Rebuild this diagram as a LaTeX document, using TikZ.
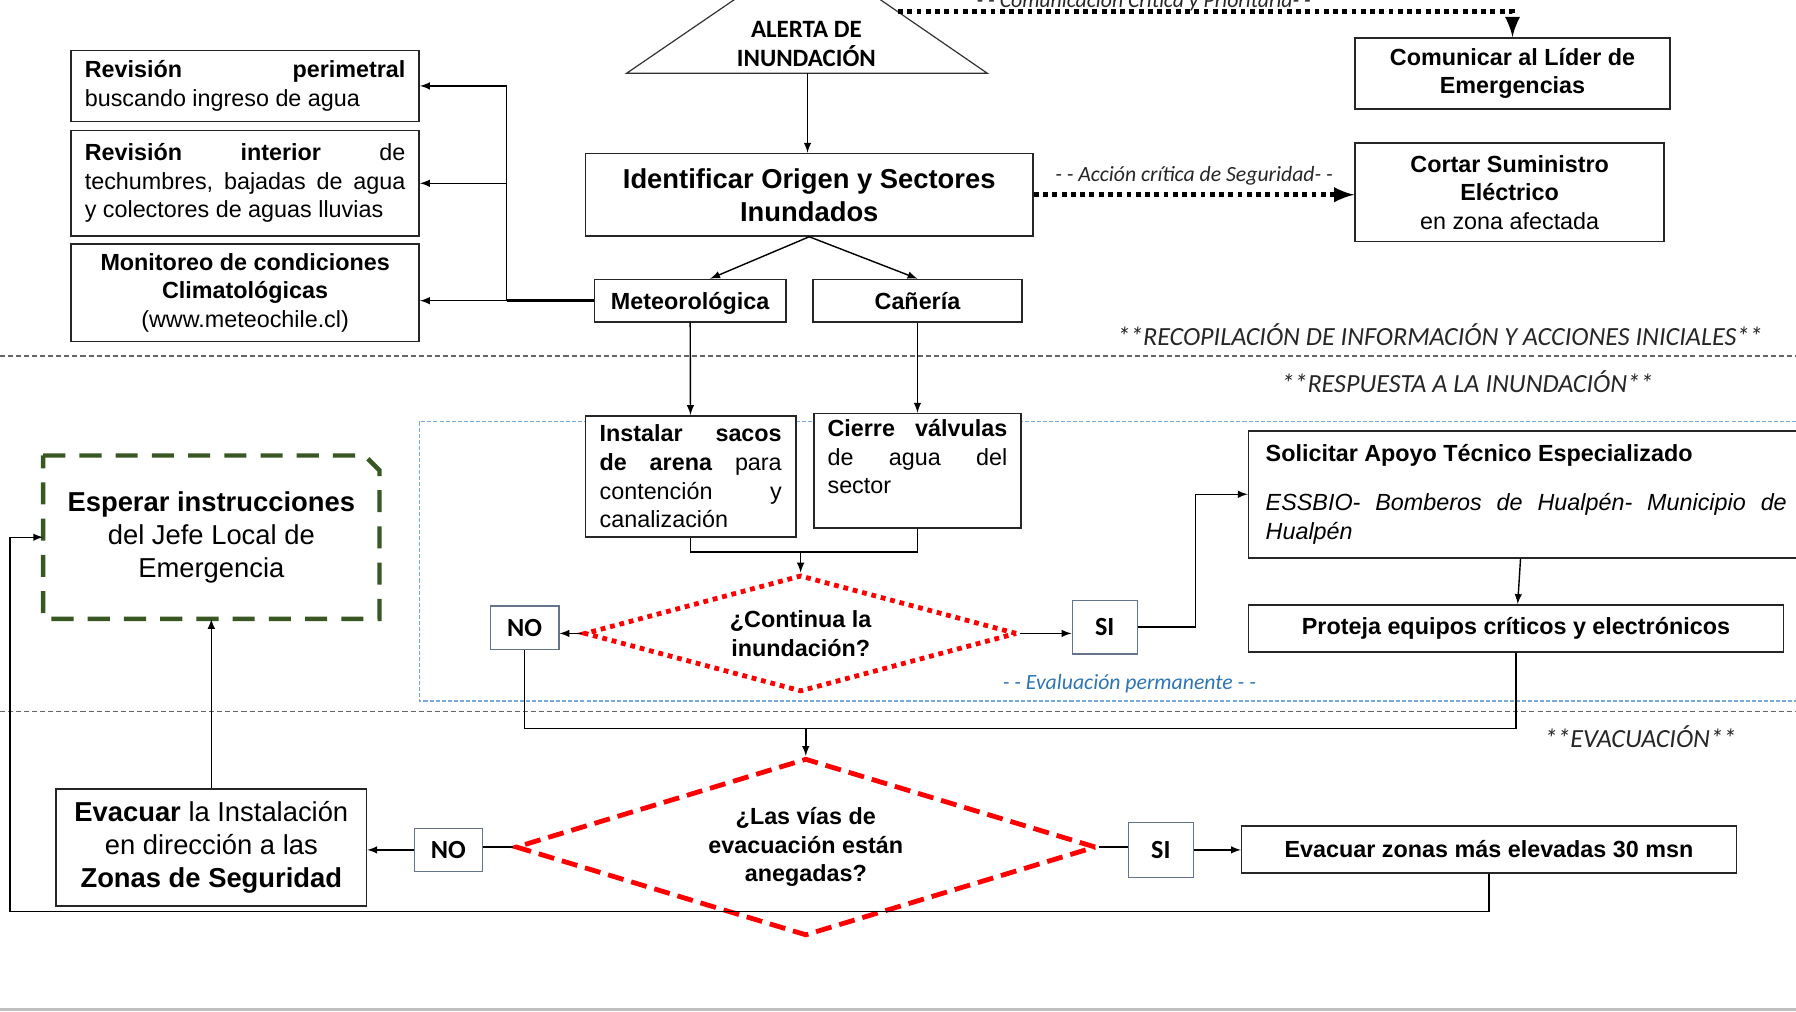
\documentclass[tikz,border=0pt]{standalone}
\usepackage{fontspec}
\setmainfont{Liberation Sans}
\newfontfamily\calibri{Carlito}
\usepackage{tikz}
\usetikzlibrary{shapes,arrows,positioning}
\definecolor{slate}{RGB}{100,116,140}
\definecolor{leaf}{RGB}{56,87,35}
\definecolor{sky}{RGB}{120,170,220}
\definecolor{evalblue}{RGB}{46,117,182}
\newcommand{\boxfont}{\fontsize{11.6}{14.2}\selectfont}
\newcommand{\bigboxfont}{\fontsize{13.6}{16.4}\selectfont}
\newcommand{\notefont}{\fontsize{10.8}{12}\selectfont}
\newcommand{\headfont}{\fontsize{13}{15}\selectfont}

\begin{document}
\begin{tikzpicture}[x=0.02cm, y=-0.02cm, >=latex]
  \tikzstyle{point} = [coordinate]
  \tikzstyle{box} = [rectangle, draw=black!85, line width=0.8pt, fill=white, inner sep=0pt, align=center, font=\boxfont]
  \tikzstyle{textbox} = [box, align=justify, inner xsep=0.24cm]
  \tikzstyle{answer} = [rectangle, draw=slate, semithick, fill=white, inner sep=0pt, font=\calibri\headfont\bfseries]
  \tikzstyle{decision} = [diamond, draw=red, line width=2.4pt, inner sep=0pt, align=center, font=\boxfont\bfseries]
  \tikzstyle{critical} = [->, line width=2.4pt, dash pattern=on 2.4pt off 2.2pt]
  \tikzstyle{link} = [line width=0.7pt]
  \tikzstyle{section} = [font=\calibri\headfont\itshape, text=black!85]
  \tikzstyle{note} = [font=\calibri\notefont\itshape, text=black!85]
  \tikzstyle{divider} = [black!60, line width=0.8pt, dash pattern=on 2.5pt off 1.5pt]

  \useasboundingbox (0,0) rectangle (1568,883);

  % stages
  \draw[sky, line width=0.6pt, dash pattern=on 2pt off 1pt] (366,368) rectangle (1590,612);
  \draw[divider] (0,311) -- (1568,311);
  \draw[divider] (0,621) -- (1568,621);
  \draw[black!25, line width=1.5pt] (0,881) -- (1568,881);

  % alert
  \draw[line width=0.6pt, black!80] (547,64) -- (705,-44) -- (862,64) -- cycle;
  \node (alerta) [font=\calibri\fontsize{12.4}{14.4}\selectfont\bfseries, align=center] at (704,38) {ALERTA DE\\INUNDACIÓN};
  \node (alertabase) [point] at (705,64) {};
  \node (alertaright) [point] at (784,10) {};

  % first stage
  \node (rev1) [textbox, text width=5.6cm, minimum height=1.24cm] at (214,75) {\textbf{Revisión}\hfill\textbf{perimetral}\\ buscando ingreso de agua};
  \node (rev2) [textbox, text width=5.6cm, minimum height=1.84cm] at (214,160) {\textbf{Revisión}\hfill\textbf{interior}\hfill de\\ techumbres,\hfill bajadas\hfill de\hfill agua\\ y colectores de aguas lluvias};
  \node (clima) [box, minimum width=6.08cm, minimum height=1.70cm] at (214,255.5) {\textbf{Monitoreo de condiciones}\\ \textbf{Climatológicas}\\ (www.meteochile.cl)};
  \node (identificar) [box, font=\bigboxfont\bfseries, minimum width=7.82cm, minimum height=1.44cm] at (706.5,170) {Identificar Origen y Sectores\\Inundados};
  \node (comunicar) [box, font=\boxfont\bfseries, minimum width=5.5cm, minimum height=1.24cm] at (1320.5,64) {Comunicar al Líder de\\Emergencias};
  \node (cortar) [box, minimum width=5.4cm, minimum height=1.72cm] at (1318,168) {\textbf{Cortar Suministro}\\ \textbf{Eléctrico}\\ en zona afectada};
  \node (meteo) [box, font=\boxfont\bfseries, minimum width=3.34cm, minimum height=0.74cm, text depth=0pt] at (602.5,262.5) {Meteorológica};
  \node (caneria) [box, font=\boxfont\bfseries, minimum width=3.64cm, minimum height=0.74cm, text depth=0pt] at (801,262.5) {Cañería};

  % second stage
  \node (sacos) [textbox, text width=3.18cm, inner xsep=0.25cm, minimum height=2.12cm] at (603,416) {\textbf{Instalar}\hfill\textbf{sacos}\\ \textbf{de}\hfill\textbf{arena}\hfill para\\ contención\hfill y\\ canalización};
  \node (valvulas) [textbox, text width=3.14cm, minimum height=2.0cm] at (801,411) {\textbf{Cierre}\hfill\textbf{válvulas}\\ de\hfill agua\hfill del\\ sector\\ \mbox{}};
  \node (continua) [decision, dash pattern=on 2.4pt off 2.4pt, aspect=3.7, minimum width=7.56cm, minimum height=2.04cm] at (699,553) {¿Continua la\\inundación?};
  \node (no1) [answer, minimum width=1.2cm, minimum height=0.76cm] at (458,548) {NO};
  \node (si1) [answer, minimum width=1.14cm, minimum height=0.94cm] at (964.5,547.5) {SI};
  \node (apoyo) [textbox, text width=9.1cm, inner xsep=0.3cm, minimum height=2.22cm] at (1332.5,431.5) {\textbf{Solicitar Apoyo Técnico Especializado}\\[10pt] {\itshape ESSBIO-\hfill Bomberos\hfill de\hfill Hualpén-\hfill Municipio\hfill de}\\ {\itshape Hualpén}};
  \node (proteja) [box, font=\boxfont\bfseries, minimum width=9.34cm, minimum height=0.82cm] at (1323.5,548.5) {Proteja equipos críticos y electrónicos};

  % third stage
  \node (vias) [decision, dash pattern=on 8pt off 4pt, aspect=3.3, minimum width=10.14cm, minimum height=3.1cm] at (703.5,739.5) {¿Las vías de\\evacuación están\\anegadas?};
  \node (no2) [answer, minimum width=1.18cm, minimum height=0.76cm] at (391.5,742) {NO};
  \node (si2) [answer, minimum width=1.14cm, minimum height=0.96cm] at (1013.5,742) {SI};
  \node (evacuar) [box, font=\bigboxfont, minimum width=5.42cm, minimum height=2.04cm] at (184.5,740) {\textbf{Evacuar} la Instalación\\en dirección a las\\\textbf{Zonas de Seguridad}};
  \node (zonas) [box, font=\boxfont\bfseries, minimum width=8.64cm, minimum height=0.82cm] at (1300,741.5) {Evacuar zonas más elevadas 30 msn};
  \node (esperar) [font=\bigboxfont, align=center, minimum width=5.86cm, minimum height=2.84cm, inner sep=0pt] at (184.5,469) {\textbf{Esperar instrucciones}\\del Jefe Local de\\Emergencia};
  \draw[leaf, line width=2.2pt, dash pattern=on 11pt off 7pt] (esperar.north west) -- ([xshift=-0.26cm]esperar.north east) -- ([yshift=-0.26cm]esperar.north east) -- (esperar.south east) -- (esperar.south west) -- cycle;

  % stage titles
  \node (recopilacion) [section] at (1257,292) {**RECOPILACIÓN DE INFORMACIÓN Y ACCIONES INICIALES**};
  \node (respuesta) [section] at (1281,333) {**RESPUESTA A LA INUNDACIÓN**};
  \node (evacuacion) [section] at (1432,643) {**EVACUACIÓN**};
  \node (evaluacion) [note, text=evalblue] at (986,597) {- - Evaluación permanente - -};

  % connectors
  \draw[link,->] (alertabase) -- (alertabase |- identificar.north);
  \draw[critical] (alertaright) -| node[note, pos=0.2, anchor=base, yshift=2pt] {- - Comunicación Crítica y Prioritaria- -} (comunicar.north);
  \draw[critical] (identificar.east) -- node[note, above] {- - Acción crítica de Seguridad- -} (identificar.east -| cortar.west);
  \draw[link,->] (identificar.south) -- ([xshift=0.35cm]meteo.north);
  \draw[link,->] (identificar.south) -- (caneria.north);
  \node (trunk) [point, left=1.52cm of meteo.west] {};
  \draw[line width=1.2pt] (meteo.west) -- (trunk);
  \draw[link,->] (trunk) |- (rev1.east);
  \draw[link,->] (trunk) |- (rev2.east);
  \draw[link,->] (trunk) -- (trunk -| clima.east);
  \draw[link,->] (meteo) -- (sacos);
  \draw[link,->] (caneria) -- (valvulas);
  \node (join1) [point, above=0.36cm of continua.north] {};
  \draw[link] (sacos.south) |- (join1);
  \draw[link] (valvulas.south) |- (join1);
  \draw[link,->] (join1) -- (continua.north);
  \draw[link,->] (continua.west) -- (continua.west -| no1.east);
  \draw[link,->] (continua.east) -- (continua.east -| si1.west);
  \draw[link,->] (si1.east) -- ++(1cm,0) |- (apoyo.west);
  \draw[link,->] ([xshift=-0.1cm]apoyo.south) -- ([xshift=0.03cm]proteja.north);
  \node (join2) [point, above=0.48cm of vias.north] {};
  \draw[link] (proteja.south) |- (join2);
  \draw[link] (no1.south) |- (join2);
  \draw[link,->] (join2) -- (vias.north);
  \draw[link] (vias.west) -- (vias.west -| no2.east);
  \draw[link,->] (no2.west) -- (no2.west -| evacuar.east);
  \draw[link] (vias.east) -- (vias.east -| si2.west);
  \draw[link,->] (si2.east) -- (si2.east -| zonas.west);
  \draw[link,->] (evacuar.north) -- (esperar.south);
  \draw[link,->] (zonas.south) -- ++(0,-0.66cm) -| ([xshift=-0.58cm]esperar.west) -- (esperar.west);
\end{tikzpicture}
\end{document}
